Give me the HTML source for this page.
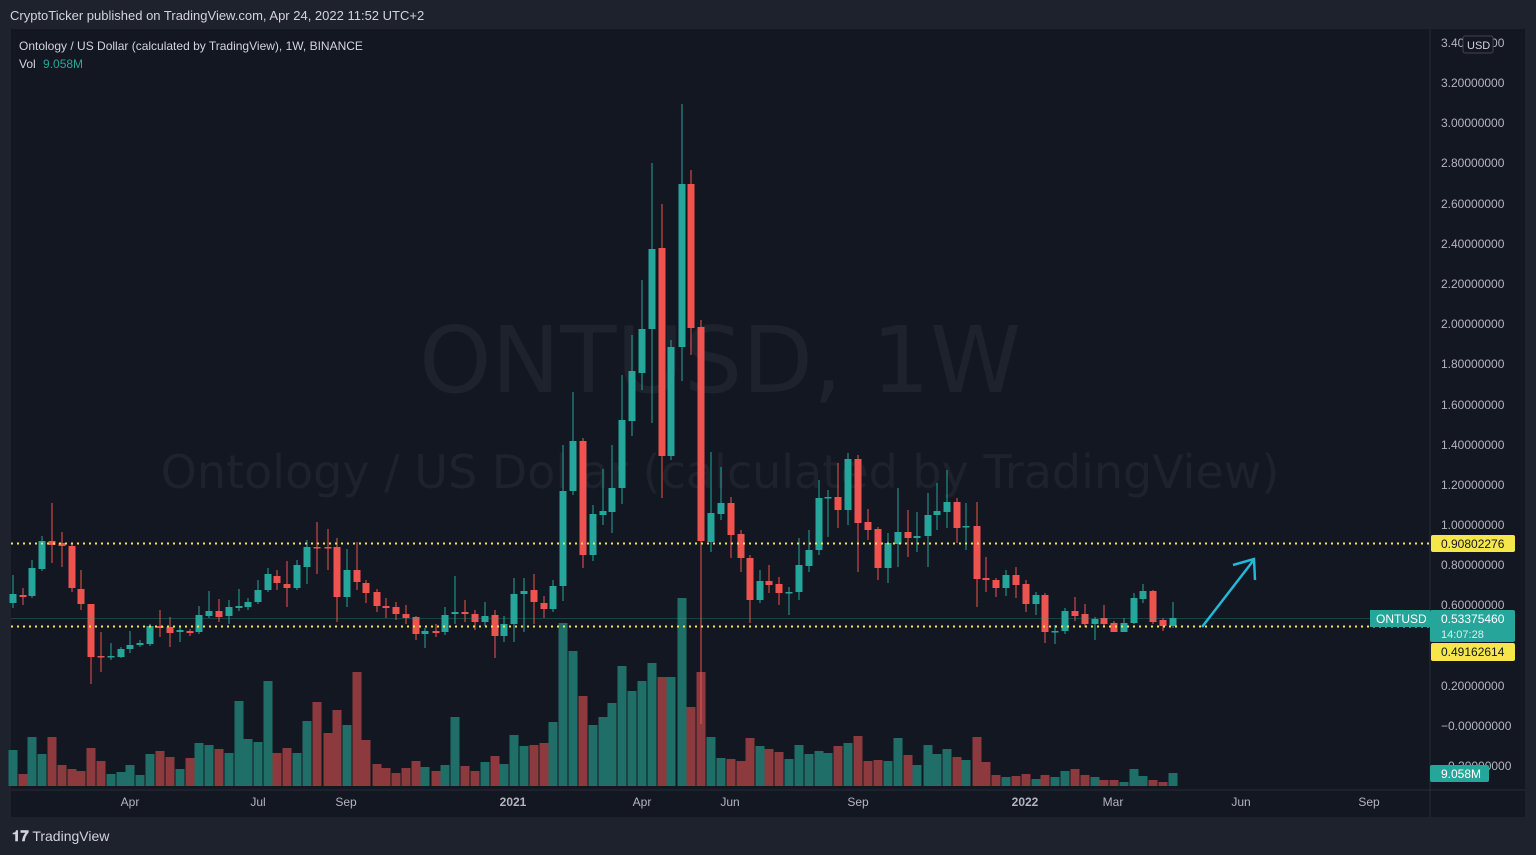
<!DOCTYPE html>
<html><head><meta charset="utf-8"><style>
body{margin:0;width:1536px;height:855px;background:#1e222d;overflow:hidden;font-family:"Liberation Sans",sans-serif;}
#hdr{position:absolute;left:10px;top:8px;color:#d1d4dc;font-size:13px;}
#logo{position:absolute;left:12px;top:828px;color:#d1d4dc;font-size:14px;}
</style></head><body>
<div id="hdr">CryptoTicker published on TradingView.com, Apr 24, 2022 11:52 UTC+2</div>
<svg id="s" width="1536" height="855" style="position:absolute;left:0;top:0"></svg>
<div id="logo"><b style="font-size:15px">𝟏𝟕</b> TradingView</div>
<script>
const s=document.getElementById('s');
let h='';
h+='<rect x="11" y="29" width="1514" height="788" fill="#131722"/>';
h+='<line x1="1430" y1="29" x2="1430" y2="817" stroke="#2a2e39"/>';
h+='<line x1="11" y1="790" x2="1525" y2="790" stroke="#2a2e39"/>';
h+='<text x="720" y="392" font-size="92" fill="#1e222d" text-anchor="middle" font-family="DejaVu Sans">ONTUSD, 1W</text>';
h+='<text x="720" y="488" font-size="46" fill="#1e222d" text-anchor="middle" font-family="DejaVu Sans">Ontology / US Dollar (calculated by TradingView)</text>';
h+='<text x="19" y="50" font-size="12" fill="#d1d4dc">Ontology / US Dollar (calculated by TradingView), 1W, BINANCE</text>';
h+='<text x="19" y="68" font-size="12" fill="#d1d4dc">Vol <tspan fill="#26a69a" dx="4">9.058M</tspan></text>';
const pl=[[3.2,82],[3.0,122],[2.8,162],[2.6,203],[2.4,243],[2.2,283],[2.0,323],[1.8,363],[1.6,404],[1.4,444],[1.2,484],[1.0,524],[0.8,564],[0.6,604],[0.2,685]];
pl.forEach(p=>{h+=`<text x="1441" y="${p[1]+5}" font-size="12" fill="#b2b5be">${p[0].toFixed(8)}</text>`});
h+='<text x="1441" y="730" font-size="12" fill="#b2b5be">−0.00000000</text>';
h+='<text x="1441" y="770" font-size="12" fill="#b2b5be">−0.20000000</text>';
h+='<text x="1441" y="47" font-size="12" fill="#b2b5be">3.40000000</text>';
h+='<rect x="1463" y="36" width="30" height="17" fill="#131722" stroke="#434651" rx="2"/><text x="1467" y="49" font-size="11" fill="#d1d4dc">USD</text>';
[['Apr',130],['Jul',258],['Sep',346],['2021',513],['Apr',642],['Jun',730],['Sep',858],['2022',1025],['Mar',1113],['Jun',1241],['Sep',1369]].forEach(t=>{h+=`<text x="${t[1]}" y="806" font-size="12" fill="#b2b5be" text-anchor="middle" ${t[0].length==4?'font-weight="bold"':''}>${t[0]}</text>`});
const d=[
[13,603,594,575,608,1,750],[23,595,597,588,605,0,774],[32,596,568,560,598,1,737],[42,569,541,536,571,1,754],[52,541,545,503,563,0,737],[62,543,546,532,567,0,765],[72,546,588,544,592,0,769],[81,589,604,570,610,0,771],[91,604,657,604,684,0,748],[101,656,657,632,672,0,761],[111,657,656,643,660,1,774],[121,657,649,647,658,1,772],[130,649,645,631,653,1,765],[140,645,643,640,647,1,775],[150,644,626,624,646,1,754],[160,626,628,610,637,0,751],[170,627,633,617,647,0,757],[180,632,630,626,642,1,769],[190,631,633,629,636,0,758],[199,632,615,606,634,1,743],[209,616,611,591,618,1,745],[219,611,617,599,622,0,749],[229,616,607,600,624,1,753],[239,608,606,589,611,1,701],[248,607,602,598,610,1,739],[258,602,590,580,604,1,742],[268,590,574,568,592,1,681],[277,576,583,570,590,0,753],[287,584,588,561,607,0,748],[297,588,565,560,590,1,753],[307,567,547,540,584,1,721],[317,547,548,522,574,0,702],[328,547,548,529,570,0,733],[337,547,597,538,622,0,710],[347,597,570,549,607,1,725],[357,570,582,542,590,0,672],[366,583,593,580,603,0,740],[377,592,606,589,612,0,764],[386,606,608,598,618,0,768],[396,607,614,602,620,0,773],[406,614,618,605,624,0,768],[416,617,634,616,640,0,761],[425,634,631,628,648,1,767],[436,631,633,624,637,0,771],[445,632,615,607,635,1,765],[455,614,612,576,624,1,717],[465,612,614,600,622,0,766],[475,614,622,610,630,0,771],[485,622,616,602,626,1,762],[495,615,636,610,658,0,756],[504,636,624,616,642,1,764],[514,624,594,578,642,1,735],[524,594,591,578,632,1,746],[534,590,602,574,624,0,745],[544,603,609,596,618,0,743],[553,609,586,580,612,1,722],[563,586,491,445,601,1,623],[573,491,441,392,495,1,651],[583,441,555,438,568,0,696],[593,555,514,505,561,1,725],[603,515,511,469,525,1,717],[612,512,488,445,533,1,703],[622,488,420,375,504,1,666],[632,421,371,335,436,1,691],[642,373,329,280,390,1,681],[652,329,249,163,423,1,663],[662,248,456,204,498,0,677],[671,456,347,340,460,1,677],[682,347,184,104,381,1,598],[691,184,328,170,355,0,707],[701,327,541,320,724,0,672],[711,542,513,452,552,1,737],[721,514,503,467,520,1,758],[731,503,535,497,558,0,759],[741,534,558,530,572,0,761],[750,558,600,555,623,0,738],[760,600,581,570,603,1,746],[769,581,585,565,593,0,749],[779,584,593,577,605,0,752],[789,593,592,587,615,1,759],[799,592,565,538,600,1,745],[809,566,550,530,572,1,754],[819,550,498,480,555,1,751],[828,498,497,490,537,1,753],[838,497,510,463,528,0,746],[848,510,459,453,525,1,743],[858,459,523,455,572,0,736],[868,522,530,509,540,0,761],[878,529,568,527,580,0,760],[888,568,543,533,583,1,761],[898,544,532,488,567,1,738],[908,532,538,510,557,0,755],[917,538,536,512,552,1,765],[928,536,515,493,567,1,745],[937,515,511,483,530,1,754],[947,512,502,470,528,1,749],[957,502,528,498,543,0,757],[966,527,526,503,550,1,760],[977,526,579,502,607,0,737],[986,578,580,557,592,0,762],[996,580,588,578,597,0,775],[1006,588,575,570,596,1,777],[1016,575,585,567,598,0,776],[1026,584,604,580,612,0,774],[1036,604,595,592,615,1,779],[1045,595,632,593,643,0,775],[1055,632,631,625,644,1,777],[1065,631,611,608,634,1,771],[1075,611,616,597,621,0,769],[1085,614,624,604,627,0,775],[1095,624,619,617,640,1,777],[1104,618,624,605,627,0,780],[1114,623,632,621,632,0,780],[1124,632,623,618,632,1,782],[1134,623,598,593,624,1,769],[1143,599,591,584,603,1,776],[1153,591,622,590,624,0,780],[1163,620,626,618,631,0,782],[1173,626,618,602,628,1,773]];
let vol='',cnd='';
d.forEach(c=>{const[x,o,cl,hi,lo,up,v]=c;
vol+=`<rect x="${x-4.5}" y="${v}" width="9" height="${786-v}" fill="${up?'#1f6f68':'#8c3a3d'}"/>`;
const col=up?'#26a69a':'#ef5350';const t=Math.min(o,cl),b=Math.max(o,cl);
cnd+=`<line x1="${x}" y1="${hi}" x2="${x}" y2="${lo}" stroke="${col}" stroke-width="1"/><rect x="${x-3.5}" y="${t}" width="7" height="${Math.max(b-t,1.5)}" fill="${col}"/>`;});
h+=vol+cnd;
h+='<line x1="11" y1="543.5" x2="1430" y2="543.5" stroke="#f5e64a" stroke-width="2" stroke-dasharray="2,4"/>';
h+='<line x1="11" y1="626.5" x2="1430" y2="626.5" stroke="#f5e64a" stroke-width="2" stroke-dasharray="2,4"/>';
h+='<line x1="11" y1="618.5" x2="1430" y2="618.5" stroke="#26a69a" stroke-width="1" opacity="0.3"/>';
h+='<path d="M1202 627 L1253 561 M1233 565 L1254 559 L1255 580" stroke="#22b8d8" stroke-width="2.5" fill="none"/>';
h+='<rect x="1431" y="535" width="84" height="17" fill="#f5e64a" rx="2"/><text x="1441" y="548" font-size="12" fill="#131722">0.90802276</text>';
h+='<rect x="1370" y="610" width="60" height="17" fill="#26a69a"/><text x="1376" y="623" font-size="12" fill="#fff">ONTUSD</text>';
h+='<rect x="1430" y="610" width="85" height="32" fill="#26a69a" rx="2"/><text x="1441" y="623" font-size="12" fill="#fff">0.53375460</text><text x="1441" y="638" font-size="11" fill="#d8f0ec">14:07:28</text>';
h+='<rect x="1431" y="643" width="84" height="18" fill="#f5e64a" rx="2"/><text x="1441" y="656" font-size="12" fill="#131722">0.49162614</text>';
h+='<rect x="1430" y="765" width="59" height="17" fill="#26a69a" rx="2"/><text x="1441" y="778" font-size="12" fill="#fff">9.058M</text>';
s.innerHTML=h;
</script>
</body></html>
